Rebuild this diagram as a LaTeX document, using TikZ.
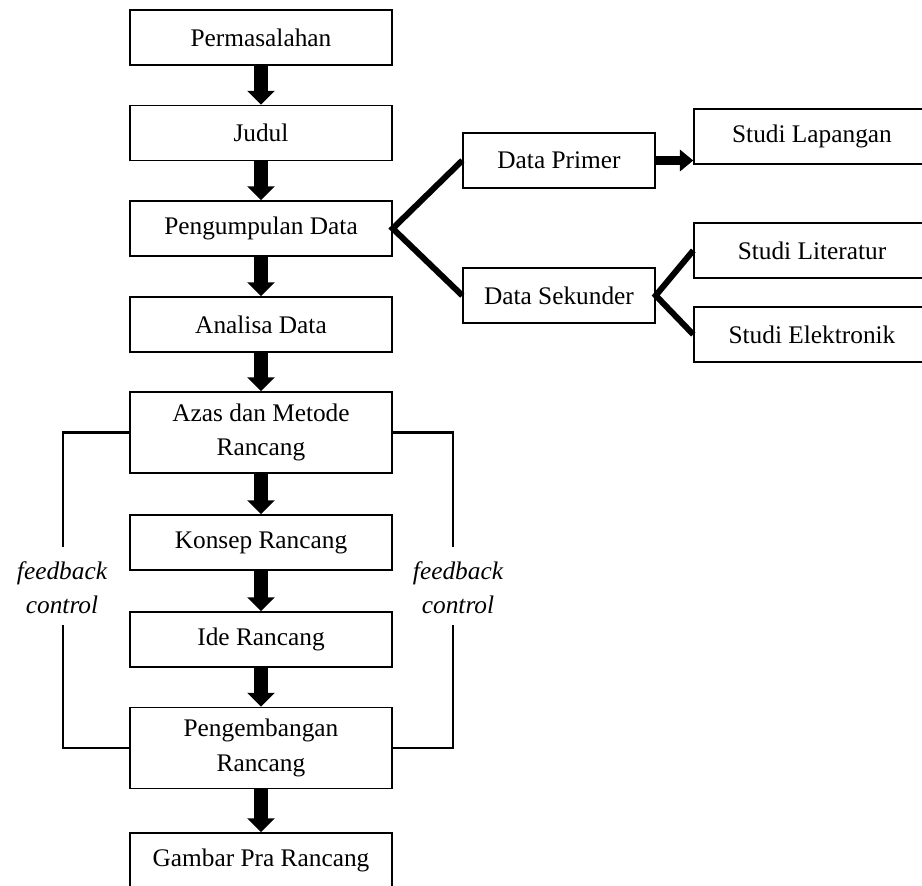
\documentclass[tikz,border=0pt]{standalone}
\usepackage{fontspec}
\setmainfont{Liberation Serif}
\usetikzlibrary{arrows.meta}

\tikzset{every picture/.style={line width=0.75pt}}
\tikzset{
  box/.style={draw, line width=1.1pt, inner sep=0pt, align=center,
    minimum width=196.5pt, minimum height=41.25pt,
    font=\fontsize{19}{26}\selectfont},
  tallbox/.style={box, minimum height=60.75pt},
  midbox/.style={box, minimum width=144pt},
  farbox/.style={box, minimum width=177pt},
  bigarrow/.style={line width=10.5pt, -{Triangle[width=20.25pt,length=10.5pt]}},
  sidearrow/.style={line width=6.75pt, -{Triangle[width=15.75pt,length=10pt]}},
  fork/.style={line width=4.5pt},
  fbline/.style={line width=2.2pt},
  fblabel/.style={align=center, inner sep=0pt,
    font=\fontsize{19}{25.5}\selectfont\itshape}
}

\begin{document}
\begin{tikzpicture}[x=0.75pt,y=0.75pt,yscale=-1,xscale=1]
        \useasboundingbox (0,0) rectangle (922,886);

        %Main column
        \draw (261,37.5) node [box] (perm) {Permasalahan};
        \draw (261,133) node [box] (judul) {Judul};
        \draw (261,228.5) node [box] (kumpul) {Pengumpulan Data};
        \draw (261,324.5) node [box] (analisa) {Analisa Data};
        \draw (261,432.5) node [tallbox] (azas) {Azas dan Metode\\Rancang};
        \draw (261,542.5) node [box] (konsep) {Konsep Rancang};
        \draw (261,639.5) node [box] (ide) {Ide Rancang};
        \draw (261,748) node [tallbox] (kembang) {Pengembangan\\Rancang};
        \draw (261,860.5) node [box] (gambar) {Gambar Pra Rancang};

        %Data branches
        \draw (559,160.5) node [midbox] (primer) {Data Primer};
        \draw (559,295.5) node [midbox] (sekunder) {Data Sekunder};
        \draw (812,136.5) node [farbox] (lapangan) {Studi Lapangan};
        \draw (812,250.5) node [farbox] (literatur) {Studi Literatur};
        \draw (812,334.5) node [farbox] (elektronik) {Studi Elektronik};

        %Feedback labels
        \draw (62,588) node [fblabel] (fbkiri) {feedback\\control};
        \draw (458,588) node [fblabel] (fbkanan) {feedback\\control};
        \coordinate (fbkiri1) at (63,547);
        \coordinate (fbkiri2) at (63,625);
        \coordinate (fbkanan1) at (453,547);
        \coordinate (fbkanan2) at (453,625);

        %Arrows down the column
        \draw [bigarrow] (perm.south) -- (judul.north);
        \draw [bigarrow] (judul.south) -- (kumpul.north);
        \draw [bigarrow] (kumpul.south) -- (analisa.north);
        \draw [bigarrow] (analisa.south) -- (azas.north);
        \draw [bigarrow] (azas.south) -- (konsep.north);
        \draw [bigarrow] (konsep.south) -- (ide.north);
        \draw [bigarrow] (ide.south) -- (kembang.north);
        \draw [bigarrow] (kembang.south) -- (gambar.north);

        %Forks
        \draw [fork] (primer.west) -- (kumpul.east) -- (sekunder.west);
        \draw [fork] (literatur.west) -- (sekunder.east) -- (elektronik.west);
        \draw [sidearrow] (primer.east) -- (primer.east -| lapangan.west);

        %Feedback lines
        \draw [fbline] (azas.west) -| (fbkiri1);
        \draw [fbline] (fbkiri2) |- (kembang.west);
        \draw [fbline] (azas.east) -| (fbkanan1);
        \draw [fbline] (fbkanan2) |- (kembang.east);

\end{tikzpicture}
\end{document}
